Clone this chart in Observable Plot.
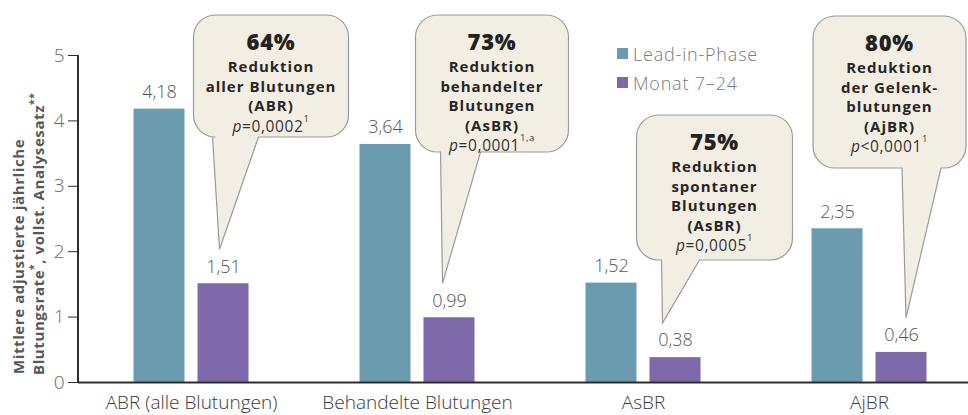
<!DOCTYPE html>
<html><head><meta charset="utf-8">
<script src="https://cdn.jsdelivr.net/npm/d3@7"></script>
<script src="https://cdn.jsdelivr.net/npm/@observablehq/plot@0.6"></script>
<style>
body{margin:0;background:#fff;}
#chart{width:968px;height:415px;}
svg{font-family:"Open Sans","Noto Sans",sans-serif;}
</style></head><body><div id="chart"></div>
<script>
// ---- data ----
const categories = ["ABR (alle Blutungen)", "Behandelte Blutungen", "AsBR", "AjBR"];
const seriesNames = ["Lead-in-Phase", "Monat 7–24"];
const leadIn = [4.18, 3.64, 1.52, 2.35];
const month7to24 = [1.51, 0.99, 0.38, 0.46];
const yTicks = [0, 1, 2, 3, 4, 5];
const reductions = ["64%", "73%", "75%", "80%"];
const reductionLines = [
  ["Reduktion", "aller Blutungen", "(ABR)"],
  ["Reduktion", "behandelter", "Blutungen", "(AsBR)"],
  ["Reduktion", "spontaner", "Blutungen", "(AsBR)"],
  ["Reduktion", "der Gelenk-", "blutungen", "(AjBR)"]
];
const pRelations = ["=", "=", "=", "<"];
const pValues = ["0,0002", "0,0001", "0,0005", "0,0001"];
const pNotes = ["1", "1,a", "1", "1"];
const yLabel1 = "Mittlere adjustierte jährliche";
const yLabel2 = [["Blutungsrate", false], ["*", true], [", vollst. Analysesatz", false], ["**", true]];

// ---- styles / layout ----
const colors = ["#6a9bae", "#7e69ab"];
const bubbleLayout = [
  {dx: -3.5, boxDx: -26, top: 15, w: 155, h: 122, tl: 19, tr: 65},
  {dx: -6.5, boxDx: -27, top: 15, w: 153, h: 137, tl: 25, tr: 65},
  {dx: -12.5, boxDx: -26, top: 115, w: 156, h: 145, tl: 25, tr: 63},
  {dx: 5, boxDx: -93, top: 16, w: 153, h: 152, tl: 89, tr: 128}
];

const rows = categories.flatMap((c, i) => [
  {cat: c, series: seriesNames[0], value: leadIn[i]},
  {cat: c, series: seriesNames[1], value: month7to24[i]}
]);
const fmt = v => v.toFixed(2).replace(".", ",");

function bubblePath(L, T, W, H, r, tl, tr, tx, ty) {
  const R = L + W, B = T + H;
  return `M${L + r},${T} H${R - r} A${r},${r} 0 0 1 ${R},${T + r} V${B - r} A${r},${r} 0 0 1 ${R - r},${B} ` +
    `H${L + tr} L${tx},${ty} L${L + tl},${B} H${L + r} A${r},${r} 0 0 1 ${L},${B - r} V${T + r} A${r},${r} 0 0 1 ${L + r},${T} Z`;
}

function annotations(index, scales, values, dim) {
  const xs = scales.x, ys = scales.y;
  const bw = xs.bandwidth ? xs.bandwidth() : (xs(categories[1]) - xs(categories[0]));
  const g = d3.create("svg:g");
  // vertical axis line
  g.append("line").attr("x1", dim.marginLeft).attr("x2", dim.marginLeft)
    .attr("y1", ys(5)).attr("y2", ys(0) + 1).attr("stroke", "#2e2e2e").attr("stroke-width", 2);
  // y label
  g.append("text").attr("transform", `translate(24,374) rotate(-90)`).attr("text-anchor", "start")
    .attr("font-size", 15).attr("font-weight", 700).attr("letter-spacing", 0.6).attr("fill", "#585858").text(yLabel1);
  const t2 = g.append("text").attr("transform", `translate(44,375) rotate(-90)`).attr("text-anchor", "start")
    .attr("font-size", 15).attr("font-weight", 700).attr("letter-spacing", 0.6).attr("fill", "#585858");
  yLabel2.forEach(([s, sup]) => {
    const ts = t2.append("tspan").text(s);
    if (sup) ts.attr("baseline-shift", "super").attr("font-size", 10);
  });
  // legend
  seriesNames.forEach((s, i) => {
    const y0 = 48 + i * 29;
    g.append("rect").attr("x", 617).attr("y", y0).attr("width", 11).attr("height", 11).attr("fill", colors[i]);
    g.append("text").attr("x", 633).attr("y", y0 + 5.5).attr("dominant-baseline", "central").attr("text-anchor", "start")
      .attr("font-size", 18).attr("font-weight", 300).attr("letter-spacing", 0.8).attr("fill", "#7a7a7a").text(s);
  });
  // callouts
  categories.forEach((c, i) => {
    const lay = bubbleLayout[i];
    const m = xs(c) + bw / 2 + 32;
    const tx = m + lay.dx, ty = ys(month7to24[i]) - 34;
    const L = tx + lay.boxDx;
    g.append("path").attr("d", bubblePath(L, lay.top, lay.w, lay.h, 22, lay.tl, lay.tr, tx, ty))
      .attr("fill", "#f3eee3").attr("stroke", "#9a9a9a").attr("stroke-width", 1.2);
    const cx = L + lay.w / 2;
    let y = lay.top + 26;
    g.append("text").attr("x", cx).attr("y", y).attr("text-anchor", "middle").attr("dominant-baseline", "central")
      .attr("font-size", 22).attr("font-weight", 800).attr("letter-spacing", 0.8).attr("fill", "#222").text(reductions[i]);
    y += 25;
    reductionLines[i].forEach(line => {
      g.append("text").attr("x", cx).attr("y", y).attr("text-anchor", "middle").attr("dominant-baseline", "central")
        .attr("font-size", 15).attr("font-weight", 700).attr("letter-spacing", 1.0).attr("fill", "#262626").text(line);
      y += 19.5;
    });
    const pt = g.append("text").attr("x", cx).attr("y", y + 1).attr("text-anchor", "middle").attr("dominant-baseline", "central")
      .attr("font-size", 15.5).attr("font-weight", 400).attr("letter-spacing", 0.6).attr("fill", "#333");
    pt.append("tspan").attr("font-style", "italic").text("p");
    pt.append("tspan").text(pRelations[i] + pValues[i]);
    pt.append("tspan").attr("font-size", 9.5).attr("dy", -8).text(pNotes[i]);
  });
  return g.node();
}

const chart = Plot.plot({
  width: 968,
  height: 415,
  marginLeft: 78,
  marginRight: 0,
  marginTop: 55,
  marginBottom: 33,
  style: {fontFamily: "'Open Sans','Noto Sans',sans-serif", background: "#fff"},
  x: {type: "band", domain: categories, range: [77.5, 981.5], padding: 0, label: null},
  y: {domain: [0, 5], label: null},
  marks: [
    Plot.barY(rows.filter(d => d.series === seriesNames[0]), {x: "cat", y: "value", fill: colors[0], insetLeft: 55.5, insetRight: 119.5}),
    Plot.barY(rows.filter(d => d.series === seriesNames[1]), {x: "cat", y: "value", fill: colors[1], insetLeft: 119.5, insetRight: 55.5}),
    Plot.text(rows.filter(d => d.series === seriesNames[0]), {x: "cat", y: "value", text: d => fmt(d.value), dx: -32, dy: -17, fontSize: 18, fontWeight: 300, fill: "#555", letterSpacing: 0.6}),
    Plot.text(rows.filter(d => d.series === seriesNames[1]), {x: "cat", y: "value", text: d => fmt(d.value), dx: 32, dy: -17, fontSize: 18, fontWeight: 300, fill: "#555", letterSpacing: 0.6}),
    Plot.ruleY([0], {stroke: "#2e2e2e", strokeWidth: 2}),
    Plot.axisY({ticks: yTicks, tickSize: 10, tickPadding: 4, fontSize: 19, fontWeight: 300, stroke: "#2e2e2e", fill: "#6a6a6a", label: null, tickFormat: d => String(d)}),
    Plot.axisX({tickSize: 0, tickPadding: 13, fontSize: 19, fontWeight: 300, fill: "#3a3a3a", label: null, letterSpacing: 0.8}),
    annotations
  ]
});
document.getElementById("chart").appendChild(chart);
</script>
</body></html>
